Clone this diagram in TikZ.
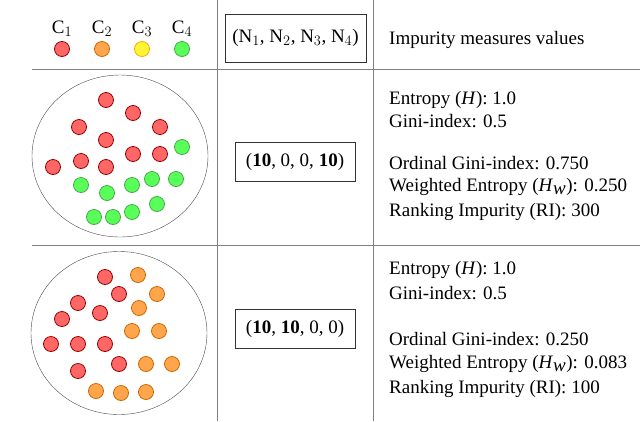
\documentclass[tikz,border=0pt]{standalone}
\usepackage{fontspec}
\setmainfont{Liberation Serif}
\usetikzlibrary{shapes.geometric}
\begin{document}
\begin{tikzpicture}[x=1pt,y=-1pt,
 dot/.style={circle,draw,line width=0.8pt,minimum size=15pt,inner sep=0pt},
 rd/.style={dot,fill=red!60!white,draw=red!60!black},
 og/.style={dot,fill=orange!70!white,draw=orange!80!black},
 yl/.style={dot,fill=yellow!80!white,draw=orange!70!yellow},
 gr/.style={dot,fill=green!65!white,draw=green!50!black!70},
 rule/.style={draw=gray,line width=1pt},
 txt/.style={font=\fontsize{19}{23}\selectfont,anchor=west,inner sep=0pt},
 bx/.style={draw=black!80,line width=0.8pt,font=\fontsize{19}{23}\selectfont,minimum width=120pt,minimum height=39pt}]
\useasboundingbox (0,0) rectangle (640,421);
\draw[rule] (32,69) -- (640,69);
\draw[rule] (32,245) -- (640,245);
\draw[rule] (217,0) -- (217,421);
\draw[rule] (373,0) -- (373,421);
% header
\foreach \i/\s/\x in {1/rd/62,2/og/102,3/yl/142,4/gr/182}{
 \node[\s] (h\i) at (\x,49) {};
 \node[font=\fontsize{19}{23}\selectfont,anchor=south,inner sep=0pt] (c\i) at (\x,37) {C$_{\i}$};
}
\node[draw=black!80,line width=0.8pt,font=\fontsize{19}{23}\selectfont,minimum width=141pt,minimum height=48pt,inner sep=1pt] (nbox) at (295.5,38) {(N$_1$, N$_2$, N$_3$, N$_4$)};
\node[txt] (imp) at (389,40) {Impurity measures values};
% top ellipse
\node[draw=black!70,ellipse,minimum width=176pt,minimum height=162pt] (e1) at (120,156) {};
\foreach \x/\y [count=\k] in {106/100,133/113,79/127,160/127,106/140,133/154,160/154,53/167,81/161,106/167}
 \node[rd] (r\k) at (\x,\y) {};
\foreach \x/\y [count=\k] in {182/147,81/185,107/193,132/185,152/179,176/179,157/204,132/212,113/217,94/217}
 \node[gr] (g\k) at (\x,\y) {};
\node[bx] (b1) at (295,162) {(\textbf{10}, 0, 0, \textbf{10})};
\node[txt] (t1) at (389,100) {Entropy (\textit{H}): 1.0};
\node[txt] (t2) at (389,121) {Gini-index: 0.5};
\node[txt] (t3) at (389,163) {Ordinal Gini-index: 0.750};
\node[txt] (t4) at (389,187) {Weighted Entropy (\textit{H}$_{\textit{w}}$): 0.250};
\node[txt] (t5) at (389,212) {Ranking Impurity (RI): 300};
% bottom ellipse
\node[draw=black!70,ellipse,minimum width=176pt,minimum height=163pt] (e2) at (119,333) {};
\foreach \x/\y [count=\k] in {105/277,119/294,78/303,100/313,62/319,51/344,78/344,105/344,119/364,78/371}
 \node[rd] (s\k) at (\x,\y) {};
\foreach \x/\y [count=\k] in {138/275,157/294,139/308,132/331,159/331,146/364,172/364,96/391,121/393,146/392}
 \node[og] (o\k) at (\x,\y) {};
\node[bx] (b2) at (295,329) {(\textbf{10}, \textbf{10}, 0, 0)};
\node[txt] (u1) at (389,270) {Entropy (\textit{H}): 1.0};
\node[txt] (u2) at (389,293) {Gini-index: 0.5};
\node[txt] (u3) at (389,339) {Ordinal Gini-index: 0.250};
\node[txt] (u4) at (389,364) {Weighted Entropy (\textit{H}$_{\textit{w}}$): 0.083};
\node[txt] (u5) at (389,389) {Ranking Impurity (RI): 100};
\end{tikzpicture}
\end{document}
